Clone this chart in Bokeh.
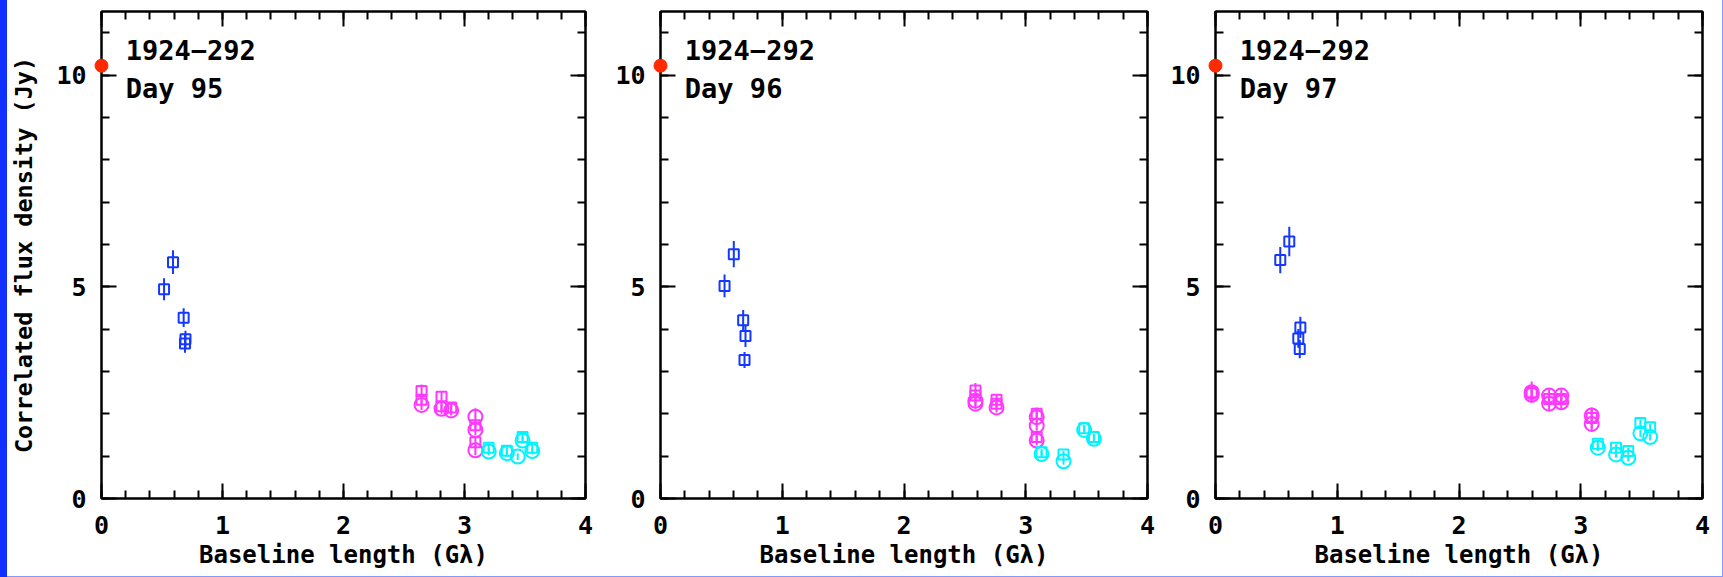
from bokeh.plotting import figure
from bokeh.models import (LinearAxis, Range1d, Label, ColumnDataSource, Spacer,
                          SingleIntervalTicker, CustomJSTickFormatter)
from bokeh.layouts import row, column
from bokeh.embed import file_html
from bokeh.resources import INLINE

# ---------------- data ----------------
SOURCE = "1924−292"
DAYS = ["Day 95", "Day 96", "Day 97"]
X_LABEL = "Baseline length (Gλ)"
Y_LABEL = "Correlated flux density (Jy)"

ZERO_X = [0.0]
ZERO_FLUX = [10.22]

# Day 95
D95_BLUE_X = [0.517, 0.591, 0.679, 0.690, 0.694]
D95_BLUE_Y = [4.94, 5.58, 4.27, 3.66, 3.76]
D95_BLUE_E = [0.26, 0.28, 0.22, 0.22, 0.20]
D95_MAG_SQ_X = [2.645, 2.645, 2.81, 2.81, 2.89, 3.09, 3.09]
D95_MAG_SQ_Y = [2.54, 2.33, 2.40, 2.18, 2.15, 1.73, 1.33]
D95_MAG_SQ_E = [0.15, 0.12, 0.12, 0.12, 0.12, 0.15, 0.15]
D95_MAG_CI_X = [2.645, 2.81, 2.89, 3.09, 3.09, 3.09]
D95_MAG_CI_Y = [2.21, 2.12, 2.08, 1.93, 1.62, 1.14]
D95_MAG_CI_E = [0.12, 0.12, 0.12, 0.20, 0.12, 0.12]
D95_CYA_SQ_X = [3.20, 3.35, 3.48, 3.56]
D95_CYA_SQ_Y = [1.20, 1.13, 1.45, 1.20]
D95_CYA_SQ_E = [0.08, 0.08, 0.08, 0.08]
D95_CYA_CI_X = [3.20, 3.35, 3.44, 3.48, 3.56]
D95_CYA_CI_Y = [1.11, 1.07, 0.99, 1.37, 1.12]
D95_CYA_CI_E = [0.08, 0.08, 0.08, 0.08, 0.08]

# Day 96
D96_BLUE_X = [0.526, 0.602, 0.679, 0.698, 0.690]
D96_BLUE_Y = [5.02, 5.77, 4.21, 3.84, 3.27]
D96_BLUE_E = [0.27, 0.31, 0.24, 0.26, 0.19]
D96_MAG_SQ_X = [2.587, 2.587, 2.76, 2.76, 3.09, 3.09]
D96_MAG_SQ_Y = [2.55, 2.43, 2.33, 2.24, 2.00, 1.45]
D96_MAG_SQ_E = [0.18, 0.15, 0.12, 0.12, 0.15, 0.12]
D96_MAG_CI_X = [2.587, 2.587, 2.76, 3.09, 3.09, 3.09]
D96_MAG_CI_Y = [2.31, 2.24, 2.15, 1.92, 1.72, 1.37]
D96_MAG_CI_E = [0.12, 0.12, 0.12, 0.15, 0.12, 0.12]
D96_CYA_SQ_X = [3.13, 3.31, 3.48, 3.56]
D96_CYA_SQ_Y = [1.09, 1.04, 1.66, 1.45]
D96_CYA_SQ_E = [0.08, 0.08, 0.08, 0.08]
D96_CYA_CI_X = [3.13, 3.31, 3.48, 3.56]
D96_CYA_CI_Y = [1.05, 0.88, 1.62, 1.41]
D96_CYA_CI_E = [0.08, 0.08, 0.08, 0.08]

# Day 97
D97_BLUE_X = [0.532, 0.606, 0.697, 0.680, 0.692]
D97_BLUE_Y = [5.63, 6.07, 4.04, 3.78, 3.53]
D97_BLUE_E = [0.31, 0.35, 0.25, 0.22, 0.22]
D97_MAG_SQ_X = [2.597, 2.74, 2.84, 3.09]
D97_MAG_SQ_Y = [2.51, 2.35, 2.35, 1.90]
D97_MAG_SQ_E = [0.25, 0.15, 0.15, 0.25]
D97_MAG_CI_X = [2.597, 2.597, 2.74, 2.74, 2.84, 2.84, 3.09, 3.09]
D97_MAG_CI_Y = [2.51, 2.45, 2.43, 2.24, 2.43, 2.27, 1.96, 1.76]
D97_MAG_CI_E = [0.15, 0.15, 0.15, 0.15, 0.15, 0.15, 0.15, 0.15]
D97_CYA_SQ_X = [3.14, 3.29, 3.39, 3.49, 3.57]
D97_CYA_SQ_Y = [1.29, 1.20, 1.12, 1.78, 1.68]
D97_CYA_SQ_E = [0.08, 0.08, 0.08, 0.08, 0.08]
D97_CYA_CI_X = [3.14, 3.29, 3.39, 3.49, 3.57]
D97_CYA_CI_Y = [1.20, 1.04, 0.96, 1.54, 1.45]
D97_CYA_CI_E = [0.08, 0.08, 0.08, 0.08, 0.08]

PANELS = [
    dict(blue=(D95_BLUE_X, D95_BLUE_Y, D95_BLUE_E),
         msq=(D95_MAG_SQ_X, D95_MAG_SQ_Y, D95_MAG_SQ_E),
         mci=(D95_MAG_CI_X, D95_MAG_CI_Y, D95_MAG_CI_E),
         csq=(D95_CYA_SQ_X, D95_CYA_SQ_Y, D95_CYA_SQ_E),
         cci=(D95_CYA_CI_X, D95_CYA_CI_Y, D95_CYA_CI_E)),
    dict(blue=(D96_BLUE_X, D96_BLUE_Y, D96_BLUE_E),
         msq=(D96_MAG_SQ_X, D96_MAG_SQ_Y, D96_MAG_SQ_E),
         mci=(D96_MAG_CI_X, D96_MAG_CI_Y, D96_MAG_CI_E),
         csq=(D96_CYA_SQ_X, D96_CYA_SQ_Y, D96_CYA_SQ_E),
         cci=(D96_CYA_CI_X, D96_CYA_CI_Y, D96_CYA_CI_E)),
    dict(blue=(D97_BLUE_X, D97_BLUE_Y, D97_BLUE_E),
         msq=(D97_MAG_SQ_X, D97_MAG_SQ_Y, D97_MAG_SQ_E),
         mci=(D97_MAG_CI_X, D97_MAG_CI_Y, D97_MAG_CI_E),
         csq=(D97_CYA_SQ_X, D97_CYA_SQ_Y, D97_CYA_SQ_E),
         cci=(D97_CYA_CI_X, D97_CYA_CI_Y, D97_CYA_CI_E)),
]

# ---------------- style ----------------
FONT = "DejaVu Sans Mono"
BLUE = "#1438ff"
MAGENTA = "#ff38ff"
CYAN = "#00f4ff"
RED = "#ff2a00"


def src(xs, ys, es):
    return ColumnDataSource(dict(x=xs, y=ys,
                                 lo=[y - e for y, e in zip(ys, es)],
                                 hi=[y + e for y, e in zip(ys, es)]))


def style_axis(ax, interval, labels):
    ax.ticker = SingleIntervalTicker(interval=interval, num_minor_ticks=5)
    ax.axis_line_color = "black"
    ax.axis_line_width = 2
    ax.major_tick_in = 15
    ax.major_tick_out = 0
    ax.minor_tick_in = 8
    ax.minor_tick_out = 0
    ax.major_tick_line_width = 2
    ax.minor_tick_line_width = 2
    ax.major_tick_line_color = "black"
    ax.minor_tick_line_color = "black"
    if labels:
        ax.major_label_text_font = FONT
        ax.major_label_text_font_size = "25px"
        ax.major_label_text_font_style = "bold"
        ax.major_label_text_color = "black"
        ax.axis_label_text_font = FONT
        ax.axis_label_text_font_size = "24px"
        ax.axis_label_text_font_style = "bold"
        ax.axis_label_text_color = "black"
    else:
        ax.formatter = CustomJSTickFormatter(code="return ''")
        ax.major_label_text_font_size = "0px"
        ax.major_label_standoff = 0


def make_panel(i, width, mbl, mbr):
    d = PANELS[i]
    p = figure(width=width, height=576, x_range=Range1d(0, 4), y_range=Range1d(0, 11.5),
               output_backend="svg", toolbar_location=None,
               min_border_left=mbl, min_border_right=mbr,
               min_border_top=11, min_border_bottom=78)
    p.grid.visible = False
    p.outline_line_color = "black"
    p.outline_line_width = 2
    p.background_fill_color = "white"
    p.border_fill_color = "white"
    p.add_layout(LinearAxis(), "above")
    p.add_layout(LinearAxis(), "right")
    style_axis(p.below[0], 1, True)
    style_axis(p.above[0], 1, False)
    style_axis(p.left[0], 5, True)
    style_axis(p.right[0], 5, False)
    p.below[0].axis_label = X_LABEL
    p.below[0].major_label_standoff = 17
    p.below[0].axis_label_standoff = 4
    p.left[0].major_label_standoff = 15
    if i == 0:
        p.left[0].axis_label = Y_LABEL
        p.left[0].axis_label_text_font_size = "23.5px"
        p.left[0].axis_label_standoff = 15

    for key, color, marker, size in [("blue", BLUE, "square", 10),
                                     ("msq", MAGENTA, "square", 10),
                                     ("mci", MAGENTA, "circle", 14),
                                     ("csq", CYAN, "square", 10),
                                     ("cci", CYAN, "circle", 14)]:
        s = src(*d[key])
        p.segment(x0="x", y0="lo", x1="x", y1="hi", source=s, line_color=color, line_width=2)
        p.scatter(x="x", y="y", source=s, marker=marker, size=size, fill_color=None,
                  line_color=color, line_width=2)

    # zero-spacing flux; overlay level so the dot is not clipped at the frame edge
    p.scatter(x=ZERO_X, y=ZERO_FLUX, marker="circle", size=13, fill_color=RED,
              line_color=RED, level="overlay")

    p.add_layout(Label(x=0.2, y=10.6, text=SOURCE, text_font=FONT, text_font_size="27px",
                       text_font_style="bold", text_baseline="middle", text_color="black"))
    p.add_layout(Label(x=0.2, y=9.67, text=DAYS[i], text_font=FONT, text_font_size="27px",
                       text_font_style="bold", text_baseline="middle", text_color="black"))
    return p


f1 = make_panel(0, 603, 91, 25)
f2 = make_panel(1, 555, 50, 18)
f3 = make_panel(2, 557, 50, 20)

left_bar = Spacer(width=7, height=577, styles={"background-color": "#1030ff"})
right_bar = Spacer(width=1, height=576, styles={"background-color": "#7f9bff"})
bottom_bar = Spacer(width=1716, height=1, styles={"background-color": "#7f9bff"})

layout = row(left_bar, column(row(f1, f2, f3, right_bar), bottom_bar))

open("out.html", "w").write(file_html(layout, INLINE))
